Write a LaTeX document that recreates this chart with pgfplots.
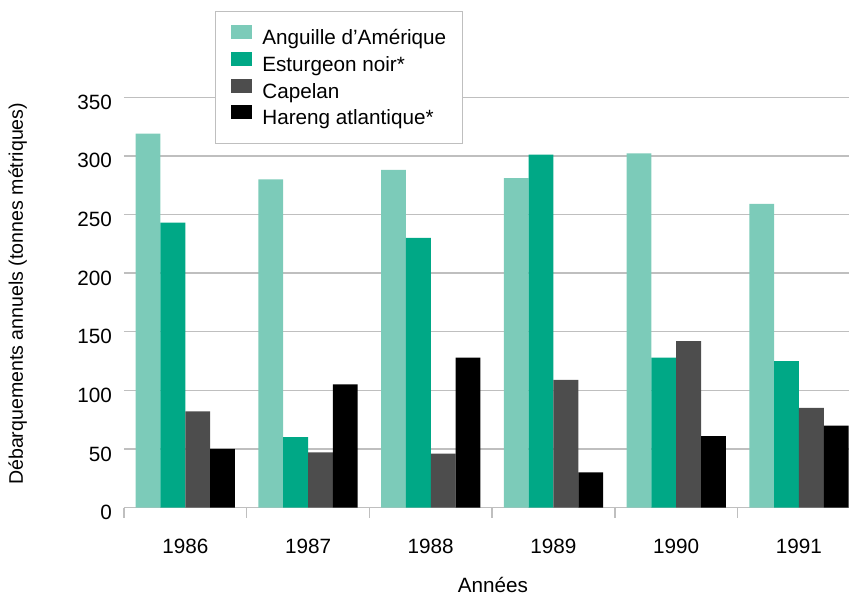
\documentclass[border=0pt]{standalone}
\usepackage{pgfplots}
\pgfplotsset{compat=1.18}
\usepackage{fontspec}
\setmainfont{Liberation Sans}
\definecolor{anguille}{HTML}{7CCBB9}
\definecolor{esturgeon}{HTML}{00A886}
\definecolor{capelan}{HTML}{4D4D4D}
\definecolor{hareng}{HTML}{000000}
\definecolor{grille}{HTML}{BFBFBF}
\begin{document}
\begin{tikzpicture}
\begin{axis}[
    scale only axis,
    width=363bp, height=205.35bp,
    font=\fontsize{10.35bp}{12bp}\selectfont,
    /pgf/number format/assume math mode=true,
    ybar=0pt,
    bar width=0.202,
    xmin=-0.5, xmax=5.41,
    ymin=0, ymax=350,
    xtick={0,1,2,3,4,5},
    xticklabels={1986,1987,1988,1989,1990,1991},
    minor xtick={-0.5,0.5,1.5,2.5,3.5,4.5},
    ytick={0,50,...,350},
    axis x line*=bottom,
    axis y line*=left,
    x axis line style={draw=grille, line width=0.7bp},
    y axis line style={draw=none},
    tick align=outside,
    major tick length=0pt,
    minor tick length=5bp,
    every minor tick/.style={draw=grille, line width=0.7bp},
    major tick style={draw=none},
    ymajorgrids=true,
    grid style={draw=grille, line width=0.7bp},
    xticklabel style={inner sep=0pt, anchor=north, yshift=-15.7bp},
    yticklabel style={inner sep=0pt, anchor=east, xshift=-5.85bp, yshift=-2.5bp},
    xlabel={Années},
    xlabel style={at={(rel axis cs:0.5087,0)}, anchor=north, inner sep=0pt, yshift=-34.8bp},
    ylabel={Débarquements annuels (tonnes métriques)},
    ylabel style={at={(rel axis cs:-0.1391,0.521)}, anchor=base, inner sep=0pt,
        font=\fontsize{9.8bp}{12bp}\selectfont},
    legend cell align=left,
    legend style={at={(rel axis cs:0.1253,1.2109)}, anchor=north west,
        draw=grille, line width=0.6bp, fill=white,
        inner xsep=8bp, inner ysep=7bp, row sep=1.3bp,
        nodes={inner sep=0pt, text height=7.5bp, text depth=2.2bp},
        /tikz/every odd column/.append style={column sep=5bp}},
    legend image code/.code={\path[#1] (0bp,0.2bp) rectangle (10.5bp,7.2bp);},
]
\addplot[fill=anguille, draw=none, bar shift=-0.303] coordinates {
    (0,319) (1,280) (2,288) (3,281) (4,302) (5,259)};
\addlegendentry{Anguille d’Amérique}
\addplot[fill=esturgeon, draw=none, bar shift=-0.101] coordinates {
    (0,243) (1,60) (2,230) (3,301) (4,128) (5,125)};
\addlegendentry{Esturgeon noir*}
\addplot[fill=capelan, draw=none, bar shift=0.101] coordinates {
    (0,82) (1,47) (2,46) (3,109) (4,142) (5,85)};
\addlegendentry{Capelan}
\addplot[fill=hareng, draw=none, bar shift=0.303] coordinates {
    (0,50) (1,105) (2,128) (3,30) (4,61) (5,70)};
\addlegendentry{Hareng atlantique*}
\end{axis}
\path (-62bp,-44bp) rectangle (363bp,254bp);
\end{tikzpicture}
\end{document}
